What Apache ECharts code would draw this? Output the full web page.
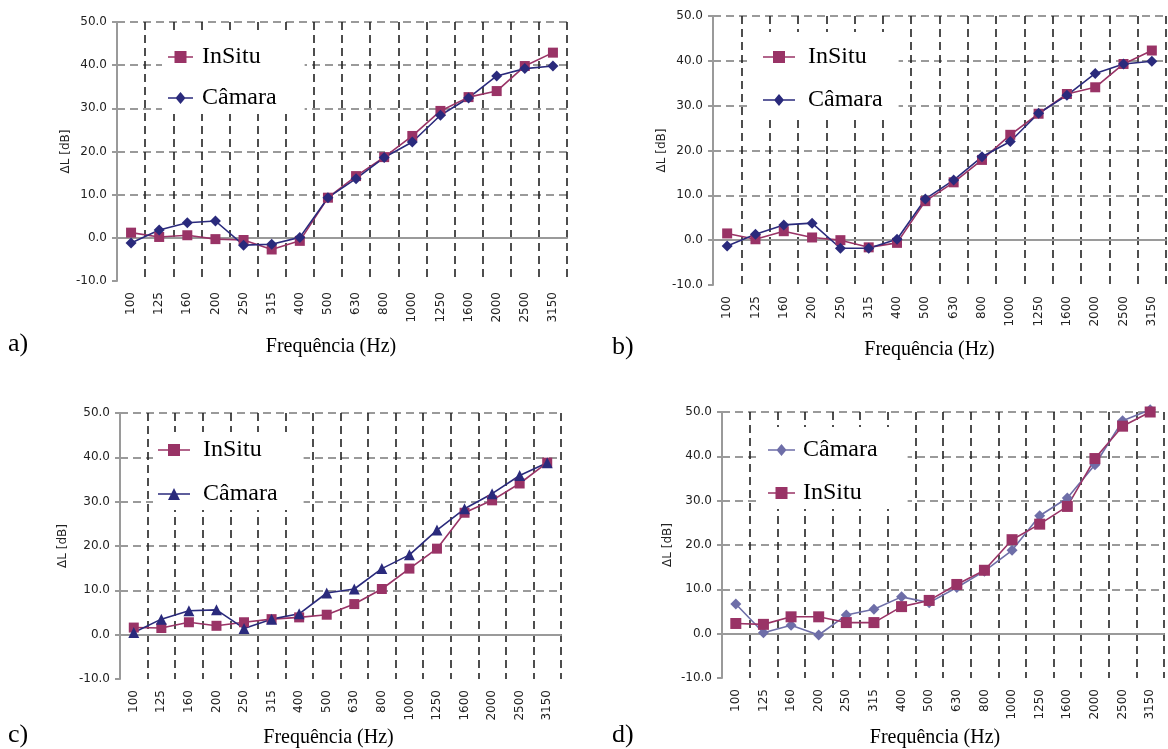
<!DOCTYPE html>
<html>
<head>
<meta charset="utf-8">
<script src="https://cdn.jsdelivr.net/npm/echarts@6/dist/echarts.min.js"></script>
<style>
html,body{margin:0;padding:0;background:#fff;}
#chart{width:1168px;height:749px;}
</style>
</head>
<body>
<div id="chart"></div>
<script>
// ---- data ----
const categories = ['100','125','160','200','250','315','400','500','630','800','1000','1250','1600','2000','2500','3150'];
const yMin = -10, yMax = 50, yStep = 10;

const aInSitu = [1.2, 0.2, 0.6, -0.3, -0.5, -2.7, -0.7, 9.3, 14.3, 18.7, 23.6, 29.4, 32.6, 34.0, 39.8, 42.9];
const aCamara = [-1.2, 1.8, 3.5, 3.9, -1.7, -1.5, 0.1, 9.3, 13.7, 18.6, 22.2, 28.4, 32.4, 37.5, 39.2, 39.8];

const bInSitu = [1.5, 0.2, 2.0, 0.6, 0.0, -1.6, -0.6, 8.7, 12.9, 17.9, 23.5, 28.2, 32.6, 34.1, 39.3, 42.3];
const bCamara = [-1.3, 1.3, 3.4, 3.8, -1.8, -1.8, 0.2, 9.2, 13.4, 18.6, 22.0, 28.3, 32.3, 37.2, 39.3, 39.9];

const cInSitu = [1.6, 1.5, 2.8, 2.0, 2.8, 3.5, 3.9, 4.5, 6.9, 10.3, 14.9, 19.4, 27.5, 30.3, 34.1, 38.8];
const cCamara = [0.5, 3.5, 5.4, 5.6, 1.4, 3.5, 4.7, 9.4, 10.3, 14.9, 18.0, 23.6, 28.4, 31.8, 35.9, 38.8];

const dCamara = [6.7, 0.2, 1.9, -0.3, 4.2, 5.5, 8.3, 7.0, 10.4, 14.1, 18.8, 26.6, 30.6, 38.1, 48.0, 50.5];
const dInSitu = [2.3, 2.1, 3.8, 3.8, 2.5, 2.5, 6.1, 7.5, 11.1, 14.3, 21.2, 24.7, 28.7, 39.5, 46.8, 50.0];

const panelLetters = ['a)', 'b)', 'c)', 'd)'];
const nameInSitu = 'InSitu';
const nameCamara = 'Câmara';
const xName = 'Frequência (Hz)';
const yName = 'ΔL [dB]';

// ---- styles ----
const cInSituColor = '#993366';
const cCamaraColor = '#2a2a7c';
const cCamaraLight = '#6e6ea8';
const tickFont = 'DejaVu Sans';
const serif = 'Liberation Serif';

const grids = [
  {left:117, top:22, width:450, height:259},
  {left:713, top:16, width:453, height:269},
  {left:120, top:413, width:441, height:267},
  {left:722, top:412, width:442, height:268}
];
const yNameGaps = [40, 40, 51, 48];
const xNameGaps = [56, 55, 49, 50];
const xNamePad = [[0,22,0,0],[0,20,0,0],[0,24,0,0],[0,16,0,0]];

const xAxes = grids.map((g,i)=>({
  type:'category', gridIndex:i, data:categories, boundaryGap:true,
  name:xName, nameLocation:'middle', nameGap:xNameGaps[i],
  nameTextStyle:{fontFamily:serif, fontSize:20, color:'#000', padding:xNamePad[i]},
  axisLine:{show:true, lineStyle:{color:'#9a9a9a', width:2}},
  axisTick:{show:false},
  axisLabel:{rotate:90, margin:11, fontFamily:tickFont, fontSize:12, color:'#222', interval:0},
  splitLine:{show:true, showMinLine:false, lineStyle:{color:'#222', width:1.6, type:[8,5]}}
}));
const yAxes = grids.map((g,i)=>({
  type:'value', gridIndex:i, min:yMin, max:yMax, interval:yStep,
  name:yName, nameLocation:'middle', nameGap:yNameGaps[i],
  nameTextStyle:{fontFamily:tickFont, fontSize:12, color:'#222'},
  axisLine:{show:true, lineStyle:{color:'#9a9a9a', width:2}},
  axisTick:{show:true, inside:false, length:5, lineStyle:{color:'#9a9a9a', width:2}},
  axisLabel:{fontFamily:tickFont, fontSize:12, color:'#222', margin:10, formatter:v=>v.toFixed(1)},
  splitLine:{show:true, showMinLine:false, lineStyle:{color:'#9a9a9a', width:2, type:[8,5]}}
}));

function mkSeries(name, data, idx, color, symbol, size){
  return {
    type:'line', name:name, data:data, xAxisIndex:idx, yAxisIndex:idx,
    symbol:symbol, symbolSize:size, showAllSymbol:true, clip:false,
    lineStyle:{color:color, width:1.6}, itemStyle:{color:color},
    emphasis:{disabled:true}, animation:false
  };
}
const series = [
  mkSeries(nameInSitu, aInSitu, 0, cInSituColor, 'rect', 10),
  mkSeries(nameCamara, aCamara, 0, cCamaraColor, 'diamond', 11),
  mkSeries(nameInSitu, bInSitu, 1, cInSituColor, 'rect', 10),
  mkSeries(nameCamara, bCamara, 1, cCamaraColor, 'diamond', 11),
  mkSeries(nameInSitu, cInSitu, 2, cInSituColor, 'rect', 10),
  mkSeries(nameCamara, cCamara, 2, cCamaraColor, 'triangle', 11),
  mkSeries(nameCamara, dCamara, 3, cCamaraLight, 'diamond', 11),
  mkSeries(nameInSitu, dInSitu, 3, cInSituColor, 'rect', 11)
];

// legend icon = line + marker, drawn as one path in a w x 12 box
function iconPath(w, shape){
  const c = w/2;
  let p = `M0 5.2 L${w} 5.2 L${w} 6.8 L0 6.8 Z `;
  if (shape === 'rect') p += `M${c-6} 0 L${c+6} 0 L${c+6} 12 L${c-6} 12 Z`;
  else if (shape === 'diamond') p += `M${c} 0 L${c+5} 6 L${c} 12 L${c-5} 6 Z`;
  else p += `M${c} 0 L${c+6} 12 L${c-6} 12 Z`;
  return 'path://' + p;
}
function item(name, w, shape, color){
  return {name:name, icon:iconPath(w, shape), itemStyle:{color:color, borderWidth:0}};
}
function mkLegend(left, top, items, itemW, itemGap, pad, textPad){
  return {
    left:left, top:top, orient:'vertical', backgroundColor:'#fff',
    padding:pad, itemGap:itemGap, itemWidth:itemW, itemHeight:12,
    selectedMode:false,
    textStyle:{fontFamily:serif, fontSize:24, color:'#000', padding:[0,0,0,textPad], lineHeight:24},
    data:items
  };
}
const option = {
  backgroundColor:'#fff',
  animation:false,
  grid:grids.map(g=>Object.assign({containLabel:false}, g)),
  xAxis:xAxes,
  yAxis:yAxes,
  series:series,
  legend:[
    mkLegend(162, 33, [item(nameInSitu,25,'rect',cInSituColor), item(nameCamara,25,'diamond',cCamaraColor)], 25, 17, [12,28,4,6], 4),
    mkLegend(750, 32, [item(nameInSitu,32,'rect',cInSituColor), item(nameCamara,32,'diamond',cCamaraColor)], 32, 19, [13,16,4,13], 8),
    mkLegend(153, 432, [item(nameInSitu,32,'rect',cInSituColor), item(nameCamara,32,'triangle',cCamaraColor)], 32, 20, [6,26,4,5], 8),
    mkLegend(760, 427, [item(nameCamara,27,'diamond',cCamaraLight), item(nameInSitu,27,'rect',cInSituColor)], 27, 19, [11,30,4,8], 3)
  ],
  graphic:[
    {type:'text', left:8, top:331, style:{text:panelLetters[0], font:'26px "Liberation Serif"', fill:'#000'}},
    {type:'text', left:612, top:334, style:{text:panelLetters[1], font:'26px "Liberation Serif"', fill:'#000'}},
    {type:'text', left:8, top:722, style:{text:panelLetters[2], font:'26px "Liberation Serif"', fill:'#000'}},
    {type:'text', left:612, top:722, style:{text:panelLetters[3], font:'26px "Liberation Serif"', fill:'#000'}}
  ]
};
const chart = echarts.init(document.getElementById('chart'), null, {renderer:'canvas'});
chart.setOption(option);
</script>
</body>
</html>
